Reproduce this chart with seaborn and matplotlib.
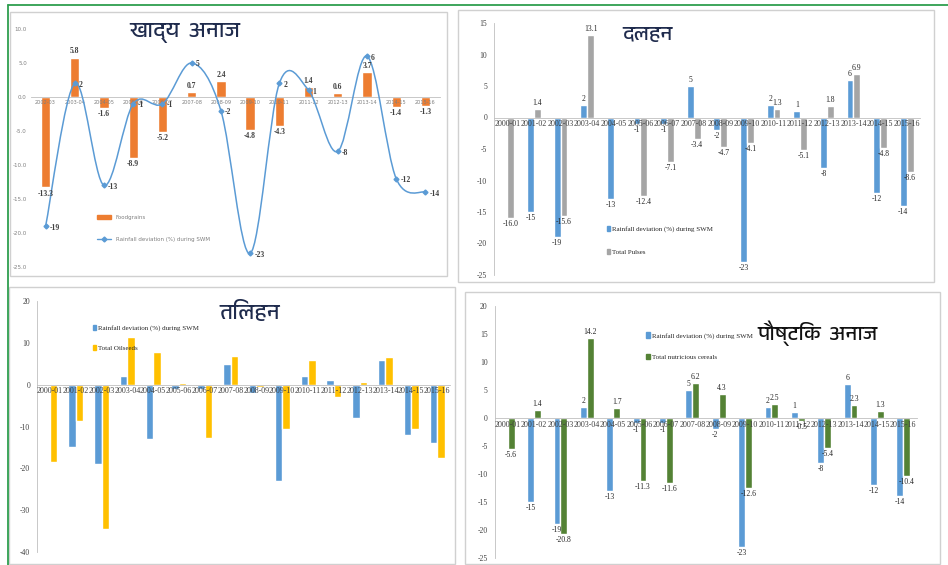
import numpy as np
import pandas as pd
import matplotlib
matplotlib.use("Agg")
import matplotlib.pyplot as plt
import seaborn as sns
from matplotlib import font_manager, ft2font
from matplotlib.path import Path
from matplotlib.patches import PathPatch, Rectangle, Patch
from matplotlib.lines import Line2D

# ---------------- data ----------------
years = ["2000-01", "2001-02", "2002-03", "2003-04", "2004-05", "2005-06", "2006-07", "2007-08",
         "2008-09", "2009-10", "2010-11", "2011-12", "2012-13", "2013-14", "2014-15", "2015-16"]
rainfall = [np.nan, -15, -19, 2, -13, -1, -1, 5, -2, -23, 2, 1, -8, 6, -12, -14]

fg_years = years[2:]
fg_rain = [-19, 2, -13, -1, -1, 5, -2, -23, 2, 1, -8, 6, -12, -14]
foodgrains = [-13.3, 5.8, -1.6, -8.9, -5.2, 0.7, 2.4, -4.8, -4.3, 1.4, 0.6, 3.7, -1.4, -1.3]

pulses = [-16.0, 1.4, -15.6, 13.1, -0.3, -12.4, -7.1, -3.4, -4.7, -4.1, 1.3, -5.1, 1.8, 6.9, -4.8, -8.6]
oilseeds = [-18.5, -8.6, -34.5, 11.4, 7.7, 0.3, -12.8, 6.9, -0.5, -10.7, 6.0, -2.9, 0.7, 6.5, -10.5, -17.6]
nutri = [-5.6, 1.4, -20.8, 14.2, 1.7, -11.3, -11.6, 6.2, 4.3, -12.6, 2.5, -0.5, -5.4, 2.3, 1.3, -10.4]

titles = ["खाद्य  अनाज", "दलहन", "तिलहन", "पौष्टिक  अनाज"]
rain_name = "Rainfall deviation (%) during SWM"
fg_name = "Foodgrains"
pulse_name = "Total Pulses"
oil_name = "Total Oilseeds"
nutri_name = "Total nutricious cereals"

BLUE = "#5B9BD5"
ORANGE = "#ED7D31"
GREY = "#A5A5A5"
YELLOW = "#FFC000"
GREEN = "#548235"

# ---------------- fonts ----------------
def find_font(ch):
    found = []
    for f in font_manager.fontManager.ttflist:
        try:
            cm = ft2font.FT2Font(f.fname).get_charmap()
        except Exception:
            continue
        if ord(ch) in cm:
            found.append(f.name)
    pref = [n for n in found if "Devanagari" in n]
    if pref:
        return pref[0]
    return found[0] if found else None

sns.set_theme(style="white")
plt.rcParams["font.family"] = ["DejaVu Sans"]
deva = find_font("क")
title_family = ([deva] if deva else []) + ["DejaVu Sans"]
SERIF = ["Liberation Serif", "DejaVu Serif"]

W, H = 948, 565
fig = plt.figure(figsize=(W / 100, H / 100), dpi=100)
fig.patch.set_facecolor("white")


def add_ax(x0, y0, x1, y1):
    return fig.add_axes([x0 / W, 1 - y1 / H, (x1 - x0) / W, (y1 - y0) / H])


def frame(x0, y0, x1, y1, color="#D0D0D0", lw=1.0):
    fig.patches.append(Rectangle((x0 / W, 1 - y1 / H), (x1 - x0) / W, (y1 - y0) / H,
                                 transform=fig.transFigure, fill=False, edgecolor=color,
                                 linewidth=lw, zorder=0))


# panel frames
frame(10, 12, 447, 276)
frame(458, 10, 934, 282)
frame(9, 287, 455, 564)
frame(465, 292, 940, 564)
# green outer border
fig.add_artist(Line2D([8 / W, 8 / W], [0, 1 - 5 / H], transform=fig.transFigure, color="#2E9E4E", lw=1.3))
fig.add_artist(Line2D([8 / W, 1], [1 - 5 / H, 1 - 5 / H], transform=fig.transFigure, color="#2E9E4E", lw=1.3))


def style_axes(ax, ylim, step, fmt, tick_fs, tick_color, fam, xfs):
    ax.set_ylim(*ylim)
    ax.set_yticks(np.arange(ylim[0], ylim[1] + 0.001, step))
    ax.set_yticklabels([fmt % v for v in np.arange(ylim[0], ylim[1] + 0.001, step)],
                       fontsize=tick_fs, color=tick_color, family=fam)
    ax.spines["bottom"].set_position(("data", 0))
    for s in ["top", "right"]:
        ax.spines[s].set_visible(False)
    ax.spines["left"].set_color("#BFBFBF")
    ax.spines["bottom"].set_color("#BFBFBF")
    ax.spines["left"].set_linewidth(0.6)
    ax.spines["bottom"].set_linewidth(0.6)
    ax.tick_params(axis="x", length=0, pad=2, labelsize=xfs, labelcolor=tick_color)
    ax.tick_params(axis="y", length=2, width=0.5, color="#BFBFBF", pad=3)
    for t in ax.get_xticklabels():
        t.set_family(fam)
    ax.set_xlabel("")
    ax.set_ylabel("")
    ax.set_facecolor("none")
    ax.grid(False)
    ax.set_axisbelow(False)


def label_bars(ax, container, fmt, fs, fam, min_abs=0.0):
    labels = []
    for b in container:
        h = b.get_height()
        if h is None or np.isnan(h) or abs(h) < min_abs:
            labels.append("")
        else:
            labels.append(fmt % h)
    ax.bar_label(container, labels=labels, fontsize=fs, family=fam, color="#262626", padding=1.5)


# ---------------- panel 1: food grains ----------------
ax1 = add_ax(31, 29, 440, 267)
df1 = pd.DataFrame({"year": fg_years, "value": foodgrains})
sns.barplot(data=df1, x="year", y="value", color=ORANGE, saturation=1, width=0.32, ax=ax1)
ax1.set_xlim(-0.5, len(fg_years) - 0.5)
xs = np.arange(len(fg_years), dtype=float)
ys = np.array(fg_rain, dtype=float)
pts = np.column_stack([xs, ys])
verts = [pts[0]]
codes = [Path.MOVETO]
n = len(pts)
for i in range(n - 1):
    p0 = pts[i - 1] if i > 0 else pts[i]
    p1 = pts[i]
    p2 = pts[i + 1]
    p3 = pts[i + 2] if i + 2 < n else pts[i + 1]
    verts += [p1 + (p2 - p0) / 6.0, p2 - (p3 - p1) / 6.0, p2]
    codes += [Path.CURVE4] * 3
ax1.add_patch(PathPatch(Path(verts, codes), fill=False, edgecolor=BLUE, linewidth=1.1, zorder=3))
ax1.plot(xs, ys, linestyle="none", marker="D", markersize=2.5, color=BLUE, zorder=4)
for x, y in zip(xs, ys):
    ax1.annotate("%d" % y, (x, y), xytext=(3, -1), textcoords="offset points", fontsize=5.5,
                 family=SERIF, fontweight="bold", color="#404040", va="center", ha="left")
label_bars(ax1, ax1.containers[0], "%.1f", 5.5, SERIF)
for t in ax1.texts:
    t.set_fontweight("bold")
    t.set_color("#404040")
style_axes(ax1, (-25, 10), 5, "%.1f", 4, "#7F7F7F", ["DejaVu Sans"], 3.6)
ax1.spines["left"].set_visible(False)
ax1.tick_params(axis="y", length=0)
ax1.legend(handles=[Patch(color=ORANGE, label=fg_name),
                    Line2D([], [], color=BLUE, marker="D", markersize=2.5, lw=1, label=rain_name)],
           loc="upper left", bbox_to_anchor=(0.15, 0.24), frameon=False, fontsize=4,
           labelcolor="#808080", labelspacing=3.0, handlelength=2.5, handleheight=0.9)
fig.text(185 / W, 1 - 33 / H, titles[0], family=title_family, fontsize=16, color="#1F2B4D",
         ha="center", va="center", fontweight="bold")

# ---------------- helper for paired bar panels ----------------
def paired(ax, crop, crop_name, color, ylim, step, width, show_labels):
    df = pd.DataFrame({"year": years * 2, "value": list(rainfall) + list(crop),
                       "series": [rain_name] * len(years) + [crop_name] * len(years)})
    sns.barplot(data=df, x="year", y="value", hue="series", hue_order=[rain_name, crop_name],
                palette=[BLUE, color], saturation=1, width=width, ax=ax, legend=False, errorbar=None)
    ax.set_xlim(-0.5, len(years) - 0.5)
    if show_labels:
        label_bars(ax, ax.containers[0], "%d", 5.5, SERIF)
        label_bars(ax, ax.containers[1], "%.1f", 5.5, SERIF, min_abs=0.35)
    style_axes(ax, ylim, step, "%d", 5.5, "#404040", SERIF, 5.8)


# ---------------- panel 2: pulses ----------------
ax2 = add_ax(494, 23, 920, 275)
paired(ax2, pulses, pulse_name, GREY, (-25, 15), 5, 0.52, True)
ax2.legend(handles=[Patch(color=BLUE, label=rain_name), Patch(color=GREY, label=pulse_name)],
           loc="upper left", bbox_to_anchor=(0.25, 0.22), frameon=False,
           prop={"family": SERIF, "size": 5}, labelspacing=2.4, handlelength=0.5, handleheight=0.8,
           handletextpad=0.3)
fig.text(648 / W, 1 - 35 / H, titles[1], family=title_family, fontsize=15, color="#1F2B4D",
         ha="center", va="center", fontweight="bold")

# ---------------- panel 3: oilseeds ----------------
ax3 = add_ax(37, 301, 450, 552)
paired(ax3, oilseeds, oil_name, YELLOW, (-40, 20), 10, 0.58, False)
ax3.legend(handles=[Patch(color=BLUE, label=rain_name), Patch(color=YELLOW, label=oil_name)],
           loc="upper left", bbox_to_anchor=(0.12, 0.93), frameon=False,
           prop={"family": SERIF, "size": 5}, labelspacing=2.0, handlelength=0.5, handleheight=0.8,
           handletextpad=0.3)
fig.text(250 / W, 1 - 312 / H, titles[2], family=title_family, fontsize=16, color="#1F2B4D",
         ha="center", va="center", fontweight="bold")

# ---------------- panel 4: nutri cereals ----------------
ax4 = add_ax(494.5, 306, 916.5, 557.7)
paired(ax4, nutri, nutri_name, GREEN, (-25, 20), 5, 0.52, True)
ax4.legend(handles=[Patch(color=BLUE, label=rain_name), Patch(color=GREEN, label=nutri_name)],
           loc="upper left", bbox_to_anchor=(0.345, 0.92), frameon=False,
           prop={"family": SERIF, "size": 5}, labelspacing=2.2, handlelength=0.5, handleheight=0.8,
           handletextpad=0.3)
fig.text(818 / W, 1 - 333 / H, titles[3], family=title_family, fontsize=15, color="#111111",
         ha="center", va="center", fontweight="bold")

fig.savefig("out.png", dpi=100, facecolor="white")
